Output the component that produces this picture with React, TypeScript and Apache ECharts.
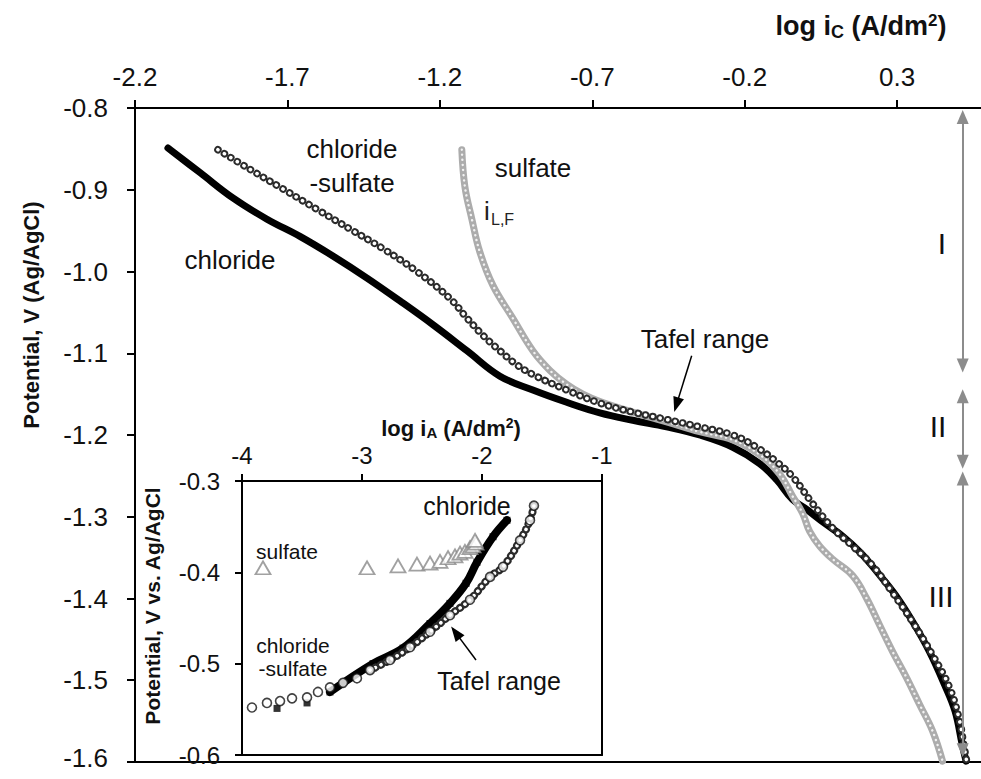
import React, { useEffect, useRef } from "react";
import * as echarts from "echarts";

const FONT = "'Liberation Sans', Arial, Helvetica, sans-serif";

// ---- tick labels ----
const mainXTicks = [-2.2, -1.7, -1.2, -0.7, -0.2, 0.3];
const insetXTicks = [-4, -3, -2, -1];

// ---- main plot: log iC (A/dm2) vs potential (V) ----
const chlorideMain: [number, number][] = [
  [-2.092, -0.849], [-1.987, -0.879], [-1.879, -0.91], [-1.767, -0.936], [-1.659, -0.957],
  [-1.551, -0.981], [-1.439, -1.008], [-1.331, -1.036], [-1.223, -1.065], [-1.111, -1.097],
  [-1.003, -1.128], [-0.895, -1.145], [-0.784, -1.16], [-0.675, -1.173], [-0.567, -1.182],
  [-0.456, -1.19], [-0.348, -1.2], [-0.239, -1.215], [-0.151, -1.235], [-0.095, -1.255],
  [-0.043, -1.279], [0.003, -1.291], [0.062, -1.308], [0.122, -1.324], [0.18, -1.344],
  [0.235, -1.368], [0.295, -1.396], [0.352, -1.429], [0.406, -1.465], [0.455, -1.505],
  [0.49, -1.538], [0.513, -1.578], [0.526, -1.599],
];

const chlorSulfMain: [number, number][] = [
  [-1.928, -0.851], [-1.823, -0.875], [-1.715, -0.899], [-1.603, -0.924], [-1.495, -0.948],
  [-1.387, -0.972], [-1.275, -1.0], [-1.167, -1.033], [-1.111, -1.057], [-1.059, -1.078],
  [-1.003, -1.097], [-0.948, -1.114], [-0.895, -1.126], [-0.784, -1.145], [-0.675, -1.161],
  [-0.567, -1.172], [-0.456, -1.181], [-0.348, -1.19], [-0.239, -1.2], [-0.161, -1.215],
  [-0.095, -1.233], [-0.043, -1.251], [0.023, -1.284], [0.089, -1.314], [0.154, -1.336],
  [0.22, -1.36], [0.285, -1.393], [0.351, -1.429], [0.416, -1.469], [0.472, -1.509],
  [0.505, -1.55], [0.518, -1.578], [0.528, -1.599],
];

const sulfateMain: [number, number][] = [
  [-1.128, -0.851], [-1.118, -0.896], [-1.095, -0.936], [-1.069, -0.976], [-1.026, -1.017],
  [-0.961, -1.057], [-0.895, -1.097], [-0.839, -1.121], [-0.784, -1.138], [-0.731, -1.15],
  [-0.675, -1.159], [-0.567, -1.172], [-0.456, -1.184], [-0.348, -1.196], [-0.239, -1.206],
  [-0.151, -1.224], [-0.085, -1.248], [-0.043, -1.275], [-0.01, -1.296], [0.013, -1.318],
  [0.046, -1.336], [0.089, -1.352], [0.154, -1.372], [0.2, -1.4], [0.243, -1.433],
  [0.285, -1.465], [0.331, -1.497], [0.374, -1.53], [0.416, -1.562], [0.449, -1.599],
];

// ---- inset: log iA (A/dm2) vs potential ----
const chlorideInset: [number, number][] = [
  [-3.708, -0.549], [-3.458, -0.543], [-3.267, -0.531], [-2.908, -0.5], [-2.658, -0.483],
  [-2.433, -0.456], [-2.267, -0.434], [-2.133, -0.412], [-2.042, -0.389], [-1.908, -0.361],
  [-1.792, -0.343],
];

const chlorSulfInset: [number, number][] = [
  [-3.917, -0.548], [-3.792, -0.543], [-3.683, -0.541], [-3.583, -0.538], [-3.458, -0.537],
  [-3.367, -0.531], [-3.267, -0.526], [-3.158, -0.521], [-3.042, -0.516], [-2.933, -0.507],
  [-2.767, -0.496], [-2.6, -0.482], [-2.433, -0.465], [-2.267, -0.447], [-2.1, -0.43],
  [-1.933, -0.405], [-1.825, -0.394], [-1.683, -0.365], [-1.6, -0.343], [-1.567, -0.327],
];

const sulfateInset: [number, number][] = [
  [-3.825, -0.395], [-2.958, -0.395], [-2.7, -0.393], [-2.542, -0.391], [-2.433, -0.39],
  [-2.35, -0.388], [-2.283, -0.384], [-2.225, -0.382], [-2.183, -0.379], [-2.142, -0.377],
  [-2.1, -0.373], [-2.075, -0.371], [-2.05, -0.368], [-2.058, -0.365],
];

// ---- annotation arrows (data coordinates of the arrowhead centres) ----
const regionArrowX = 0.515;
const regionArrows = [
  { label: "I", from: -0.8109, to: -1.1151 },
  { label: "II", from: -1.1527, to: -1.2327 },
  { label: "III", from: -1.2533, to: -1.5855 },
];
const tafelArrowMain: [number, number][] = [[-0.374, -1.103], [-0.424, -1.163]];
const tafelArrowInset: [number, number][] = [[-2.05, -0.496], [-2.22, -0.466]];

const txt = (x: number, y: number, text: string, size: number, opts: any = {}) => ({
  type: "text",
  x,
  y,
  rotation: opts.rotation || 0,
  z: 50,
  style: {
    text,
    fontSize: size,
    fontFamily: FONT,
    fontWeight: opts.bold ? "bold" : "normal",
    fill: opts.color || "#111",
    align: opts.align || "center",
    verticalAlign: "middle",
  },
});

const richTitle = (x: number, y: number, sub: string, size: number) => ({
  type: "text",
  x,
  y,
  z: 50,
  style: {
    text: `{b|log i}{s|${sub}}{b| (A/dm}{p|2}{b|)}`,
    align: "center",
    verticalAlign: "middle",
    rich: {
      b: { fontSize: size, fontWeight: "bold", fontFamily: FONT, fill: "#111", lineHeight: size + 2 },
      s: {
        fontSize: Math.round(size * 0.66),
        fontWeight: "bold",
        fontFamily: FONT,
        fill: "#111",
        lineHeight: Math.round(size * 0.5),
        verticalAlign: "bottom",
      },
      p: {
        fontSize: Math.round(size * 0.62),
        fontWeight: "bold",
        fontFamily: FONT,
        fill: "#111",
        lineHeight: Math.round(size * 0.5),
        verticalAlign: "top",
      },
    },
  },
});

export default function App() {
  const ref = useRef<HTMLDivElement>(null);

  useEffect(() => {
    if (!ref.current) return;
    const chart = echarts.init(ref.current, undefined, { renderer: "svg" });

    const axisLine = { show: true, onZero: false, lineStyle: { color: "#000", width: 2 } };
    const labelStyle = (size: number, margin: number) => ({
      fontSize: size,
      fontFamily: FONT,
      color: "#111",
      margin,
    });

    const option: any = {
      animation: false,
      backgroundColor: "#fff",
      textStyle: { fontFamily: FONT },
      grid: [
        { left: 135, top: 108, width: 846, height: 660, show: false },
        { left: 242, top: 481, width: 360, height: 274, show: true, backgroundColor: "#fff", borderWidth: 0 },
      ],
      xAxis: [
        {
          gridIndex: 0,
          type: "value",
          position: "top",
          min: -2.2,
          max: 0.575,
          interval: 0.5,
          axisLine,
          axisTick: { show: true, length: 8, lineStyle: { color: "#000", width: 2 }, customValues: mainXTicks },
          axisLabel: { ...labelStyle(26, 18), customValues: mainXTicks, formatter: (v: number) => v.toFixed(1) },
          splitLine: { show: false },
        },
        {
          gridIndex: 0,
          type: "value",
          position: "bottom",
          min: -2.2,
          max: 0.575,
          axisLine,
          axisTick: { show: false },
          axisLabel: { show: false },
          splitLine: { show: false },
        },
        {
          gridIndex: 1,
          type: "value",
          position: "top",
          min: -4,
          max: -1,
          interval: 1,
          axisLine,
          axisTick: { show: true, length: 7, lineStyle: { color: "#000", width: 2 }, customValues: insetXTicks },
          axisLabel: { ...labelStyle(24, 16), lineHeight: 20, customValues: insetXTicks, formatter: (v: number) => String(v) },
          splitLine: { show: false },
        },
        {
          gridIndex: 1,
          type: "value",
          position: "bottom",
          min: -4,
          max: -1,
          axisLine,
          axisTick: { show: false },
          axisLabel: { show: false },
          splitLine: { show: false },
        },
      ],
      yAxis: [
        {
          gridIndex: 0,
          type: "value",
          position: "left",
          min: -1.6,
          max: -0.8,
          interval: 0.1,
          axisLine,
          axisTick: { show: true, length: 8, lineStyle: { color: "#000", width: 2 } },
          axisLabel: {
            ...labelStyle(26, 27),
            lineHeight: 20,
            formatter: (v: number) => (Math.abs(v + 1.6) < 1e-6 ? `{lo|${v.toFixed(1)}}` : v.toFixed(1)),
            rich: {
              lo: { fontSize: 26, fontFamily: FONT, color: "#111", lineHeight: 20, padding: [0, 0, 8, 0] },
            },
          },
          splitLine: { show: false },
        },
        {
          gridIndex: 1,
          type: "value",
          position: "left",
          min: -0.6,
          max: -0.3,
          interval: 0.1,
          axisLine,
          axisTick: { show: true, length: 7, lineStyle: { color: "#000", width: 2 } },
          axisLabel: { ...labelStyle(24, 22), lineHeight: 20, formatter: (v: number) => v.toFixed(1) },
          splitLine: { show: false },
        },
        {
          gridIndex: 1,
          type: "value",
          position: "right",
          min: -0.6,
          max: -0.3,
          axisLine,
          axisTick: { show: false },
          axisLabel: { show: false },
          splitLine: { show: false },
        },
      ],
      series: [
        // main: chloride (filled squares -> thick black trace)
        {
          name: "chloride",
          type: "line",
          xAxisIndex: 0,
          yAxisIndex: 0,
          data: chlorideMain,
          showSymbol: false,
          smooth: 0.4,
          silent: true,
          z: 2,
          lineStyle: { color: "#000", width: 7, cap: "round", join: "round" },
        },
        // main: sulfate (light grey open triangles)
        {
          name: "sulfate",
          type: "line",
          xAxisIndex: 0,
          yAxisIndex: 0,
          data: sulfateMain,
          showSymbol: false,
          smooth: 0.4,
          silent: true,
          z: 3,
          lineStyle: { color: "#acacac", width: 7, cap: "round", join: "round" },
        },
        {
          name: "sulfate-inner",
          type: "line",
          xAxisIndex: 0,
          yAxisIndex: 0,
          data: sulfateMain,
          showSymbol: false,
          smooth: 0.4,
          silent: true,
          z: 3,
          lineStyle: { color: "#f2f2f2", width: 2.4, type: [0.1, 5], cap: "round" },
        },
        // main: chloride-sulfate (open circles)
        {
          name: "chloride-sulfate",
          type: "line",
          xAxisIndex: 0,
          yAxisIndex: 0,
          data: chlorSulfMain,
          showSymbol: false,
          smooth: 0.4,
          silent: true,
          z: 4,
          lineStyle: { color: "#2b2b2b", width: 7.5, type: [0.1, 7.5], cap: "round" },
        },
        {
          name: "chloride-sulfate-inner",
          type: "line",
          xAxisIndex: 0,
          yAxisIndex: 0,
          data: chlorSulfMain,
          showSymbol: false,
          smooth: 0.4,
          silent: true,
          z: 4,
          lineStyle: { color: "#fff", width: 3.6, type: [0.1, 7.5], cap: "round" },
        },
        // region arrows I, II, III
        {
          name: "regions",
          type: "line",
          xAxisIndex: 0,
          yAxisIndex: 0,
          data: [],
          silent: true,
          z: 5,
          markLine: {
            silent: true,
            symbol: ["triangle", "triangle"],
            symbolSize: [12, 14],
            label: { show: false },
            lineStyle: { color: "#8c8c8c", width: 2, type: "solid" },
            emphasis: { disabled: true },
            data: regionArrows.map((r) => [
              { coord: [regionArrowX, r.from] },
              { coord: [regionArrowX, r.to] },
            ]),
          },
        },
        // Tafel arrow (main)
        {
          name: "tafel-main",
          type: "line",
          xAxisIndex: 0,
          yAxisIndex: 0,
          data: [],
          silent: true,
          z: 6,
          markLine: {
            silent: true,
            symbol: ["none", "triangle"],
            symbolSize: [11, 15],
            label: { show: false },
            lineStyle: { color: "#000", width: 1.5, type: "solid" },
            emphasis: { disabled: true },
            data: [[{ coord: tafelArrowMain[0] }, { coord: tafelArrowMain[1] }]],
          },
        },
        // inset: chloride (markers + dense band)
        {
          name: "chloride-inset-band",
          type: "line",
          xAxisIndex: 2,
          yAxisIndex: 1,
          data: chlorideInset.slice(2),
          smooth: 0.4,
          showSymbol: false,
          silent: true,
          z: 6,
          lineStyle: { color: "#000", width: 8, cap: "round", join: "round" },
        },
        {
          name: "chloride-inset",
          type: "scatter",
          xAxisIndex: 2,
          yAxisIndex: 1,
          data: chlorideInset,
          symbol: "rect",
          symbolSize: 7,
          silent: true,
          z: 6,
          itemStyle: { color: "#000" },
        },
        // inset: chloride-sulfate
        {
          name: "chloride-sulfate-inset-band",
          type: "line",
          xAxisIndex: 2,
          yAxisIndex: 1,
          data: chlorSulfInset.slice(9),
          smooth: 0.4,
          showSymbol: false,
          silent: true,
          z: 7,
          lineStyle: { color: "#2b2b2b", width: 8, type: [0.1, 6], cap: "round" },
        },
        {
          name: "chloride-sulfate-inset-band-inner",
          type: "line",
          xAxisIndex: 2,
          yAxisIndex: 1,
          data: chlorSulfInset.slice(9),
          smooth: 0.4,
          showSymbol: false,
          silent: true,
          z: 7,
          lineStyle: { color: "#fff", width: 3.6, type: [0.1, 6], cap: "round" },
        },
        {
          name: "chloride-sulfate-inset",
          type: "scatter",
          xAxisIndex: 2,
          yAxisIndex: 1,
          data: chlorSulfInset,
          symbol: "circle",
          symbolSize: 9,
          silent: true,
          z: 8,
          itemStyle: { color: "#fff", borderColor: "#111", borderWidth: 1.6 },
        },
        // inset: sulfate
        {
          name: "sulfate-inset",
          type: "scatter",
          xAxisIndex: 2,
          yAxisIndex: 1,
          data: sulfateInset,
          symbol: "triangle",
          symbolSize: [15, 13],
          silent: true,
          z: 8,
          itemStyle: { color: "#fff", borderColor: "#8a8a8a", borderWidth: 1.8 },
        },
        // Tafel arrow (inset)
        {
          name: "tafel-inset",
          type: "line",
          xAxisIndex: 2,
          yAxisIndex: 1,
          data: [],
          silent: true,
          z: 9,
          markLine: {
            silent: true,
            symbol: ["none", "triangle"],
            symbolSize: [11, 15],
            label: { show: false },
            lineStyle: { color: "#000", width: 1.5, type: "solid" },
            emphasis: { disabled: true },
            data: [[{ coord: tafelArrowInset[0] }, { coord: tafelArrowInset[1] }]],
          },
        },
      ],
      graphic: [
        // axis titles
        richTitle(861, 26, "C", 27),
        txt(31, 315, "Potential, V (Ag/AgCl)", 22, { bold: true, rotation: Math.PI / 2 }),
        richTitle(451, 428, "A", 22),
        txt(152, 606, "Potential, V vs. Ag/AgCl", 21, { bold: true, rotation: Math.PI / 2 }),
        // main annotations
        txt(352, 149, "chloride", 26),
        txt(352, 183, "-sulfate", 26),
        txt(230, 260, "chloride", 26),
        txt(533, 168, "sulfate", 26),
        txt(484, 211, "i", 26, { align: "left", color: "#222" }),
        txt(491, 219, "L,F", 16, { align: "left", color: "#222" }),
        txt(705, 339, "Tafel range", 26),
        txt(942, 243, "I", 30),
        txt(938, 426, "II", 30),
        txt(941, 596, "III", 30),
        // inset annotations
        txt(467, 506, "chloride", 25),
        txt(287, 551, "sulfate", 21),
        txt(293, 645, "chloride", 21),
        txt(293, 668, "-sulfate", 21),
        txt(499, 681, "Tafel range", 25),
      ],
    };

    chart.setOption(option);
    return () => chart.dispose();
  }, []);

  return (
    <div
      ref={ref}
      style={{ position: "absolute", left: 0, top: 0, width: 981, height: 779, background: "#fff" }}
    />
  );
}
